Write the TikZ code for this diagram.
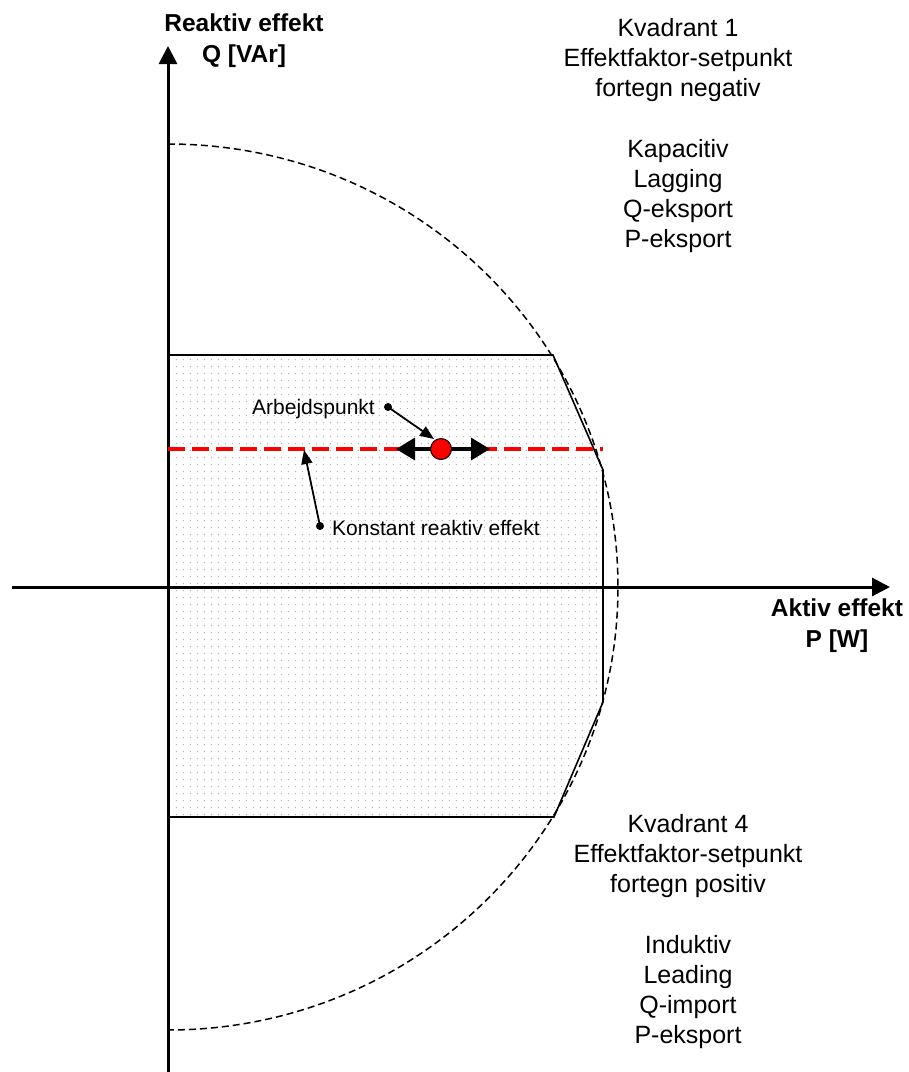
\documentclass[tikz,border=0pt]{standalone}
\usepackage{fontspec}
\setmainfont{Liberation Sans}
\usetikzlibrary{arrows.meta,patterns.meta}
\begin{document}
\begin{tikzpicture}[x=1pt,y=-1pt,
  bigtext/.style={font=\fontsize{25}{30.2}\selectfont, align=center, inner sep=0pt, anchor=north},
  axlabel/.style={font=\fontsize{24.5}{31}\selectfont\bfseries, align=center, inner sep=0pt, anchor=north},
  smalltext/.style={font=\fontsize{21}{25}\selectfont, inner sep=0pt},
  axisline/.style={line width=3pt, -{Triangle[length=18pt,width=18pt]}},
  pointer/.style={line width=1.8pt, -{Triangle[length=14pt,width=11pt]}},
  pdot/.style={circle, fill=black, inner sep=0pt, minimum size=8pt},
  region/.style={pattern={Dots[distance=7.4pt, radius=0.8pt]}, pattern color=black!30},
  limit/.style={line width=1.6pt, line join=miter},
  circ/.style={line width=1.5pt, dash pattern=on 7pt off 4pt},
  qline/.style={line width=4pt, red, dash pattern=on 17pt off 7pt},
  dblarrow/.style={line width=3.5pt, {Triangle[length=19pt,width=22pt]}-{Triangle[length=19pt,width=22pt]}},
  opoint/.style={circle, fill=red, draw=black, line width=1pt, minimum size=21pt, inner sep=0pt}
]
\useasboundingbox (0,0) rectangle (909,1072);

% shaded operating region
\fill[region] (168,355) -- (553,355) -- (603,470) -- (603,702) -- (554,817) -- (168,817) -- cycle;
\draw[limit] (168,355) -- (553,355) -- (603,470) -- (603,702) -- (554,817) -- (168,817);

% capability circle (right half)
\coordinate (ctop) at (168,144);
\draw[circ] (ctop) arc[start angle=90, end angle=-90, x radius=450pt, y radius=443pt];

% axes
\coordinate (xs) at (12,587);
\coordinate (xe) at (890,587);
\coordinate (ys) at (168,1072);
\coordinate (ye) at (168,46);
\draw[axisline] (xs) -- (xe);
\draw[axisline] (ys) -- (ye);

% constant reactive power line
\coordinate (ql) at (168,449);
\coordinate (qr) at (603,449);
\draw[qline] (ql) -- (qr);

% operating point
\coordinate (al) at (396,449);
\coordinate (ar) at (490,449);
\draw[dblarrow] (al) -- (ar);
\node[opoint] (op) at (441,449) {};

% pointers
\node[pdot] (d1) at (388,407) {};
\node[smalltext, anchor=base east] (lab1) at (375,414) {Arbejdspunkt};
\coordinate (t1) at (434,439);
\draw[pointer] (d1.center) -- (t1);

\node[pdot] (d2) at (320,526) {};
\node[smalltext, anchor=base west] (lab2) at (332,535) {Konstant reaktiv effekt};
\coordinate (t2) at (304,450);
\draw[pointer] (d2.center) -- (t2);

% axis labels
\node[axlabel] (ylab) at (244,14) {Reaktiv effekt\\Q [VAr]};
\node[axlabel] (xlab) at (837,599) {Aktiv effekt\\P [W]};

% quadrant texts
\node[bigtext] (q1) at (678,18) {Kvadrant 1\\Effektfaktor-setpunkt\\fortegn negativ\\[30.2pt]Kapacitiv\\Lagging\\Q-eksport\\P-eksport};
\node[bigtext] (q4) at (688,814) {Kvadrant 4\\Effektfaktor-setpunkt\\fortegn positiv\\[30.2pt]Induktiv\\Leading\\Q-import\\P-eksport};
\end{tikzpicture}
\end{document}
